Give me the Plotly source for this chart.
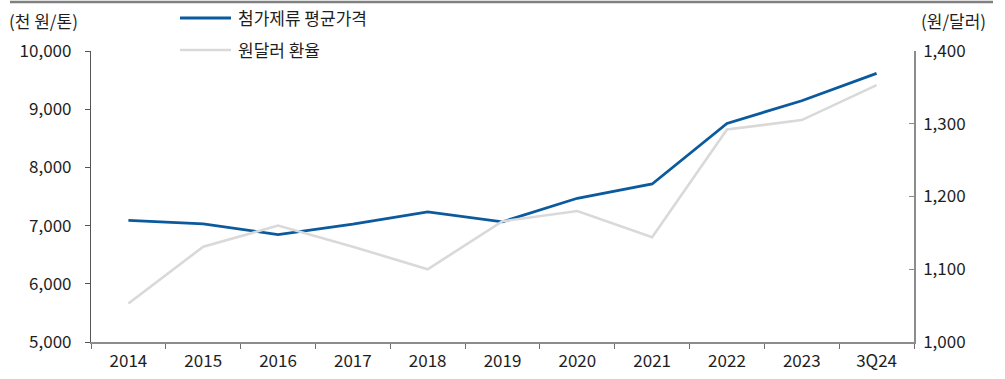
import plotly.graph_objects as go

# Annual series
years = ["2014", "2015", "2016", "2017", "2018", "2019", "2020", "2021", "2022", "2023", "3Q24"]
additive_price = [7090, 7030, 6845, 7025, 7235, 7065, 7470, 7715, 8755, 9145, 9615]  # 천 원/톤
krw_usd = [1053, 1131, 1160, 1131, 1100, 1166, 1180, 1144, 1292, 1305, 1353]  # 원/달러

left_ticks = [5000, 6000, 7000, 8000, 9000, 10000]
right_ticks = [1000, 1100, 1200, 1300, 1400]

BLUE = "#0B5A9E"
GRAY = "#D9D9D9"
FONT = "Noto Sans CJK KR"
TXT = "#1E1E1E"
FS = 17

fig = go.Figure()
fig.add_trace(go.Scatter(
    x=years, y=krw_usd, name="원달러 환율", yaxis="y2",
    mode="lines", line=dict(color=GRAY, width=2.6),
))
fig.add_trace(go.Scatter(
    x=years, y=additive_price, name="첨가제류 평균가격", yaxis="y",
    mode="lines", line=dict(color=BLUE, width=2.8),
))

W, H = 1005, 379
ml, mr, mt, mb = 91, 91, 51, 37

# paper coordinates are relative to the plot area; convert from page pixels
def pxa(x):
    return (x - ml) / (W - ml - mr)

def pya(y):
    return (H - mb - y) / (H - mt - mb)

fig.update_layout(
    width=W, height=H,
    margin=dict(l=ml, r=mr, t=mt, b=mb, autoexpand=False),
    paper_bgcolor="white", plot_bgcolor="white",
    showlegend=False,
    font=dict(family=FONT, size=FS, color=TXT),
    xaxis=dict(
        type="category", tickson="boundaries",
        range=[-0.5, len(years) - 0.5],
        automargin=False,
        showline=True, linecolor="#8C8C8C", linewidth=1.5,
        ticks="outside", ticklen=5, tickcolor="#6E6E6E", tickwidth=1,
        showgrid=False, zeroline=False,
        ticklabelstandoff=3,
        tickfont=dict(family=FONT, size=FS, color=TXT),
    ),
    yaxis=dict(
        range=[5000, 10000], tickvals=left_ticks,
        tickformat=",d", automargin=False,
        showline=True, linecolor="#555555", linewidth=1.2,
        ticks="outside", ticklen=5, tickcolor="#555555",
        showgrid=False, zeroline=False,
        ticklabelstandoff=10,
        tickfont=dict(family=FONT, size=FS, color=TXT),
    ),
    yaxis2=dict(
        range=[1000, 1400], tickvals=right_ticks,
        tickformat=",d", automargin=False,
        overlaying="y", side="right",
        showline=True, linecolor="#8C8C8C", linewidth=1.5,
        ticks="inside", ticklen=5, tickcolor="#8C8C8C",
        showgrid=False, zeroline=False,
        ticklabelstandoff=4,
        tickfont=dict(family=FONT, size=FS, color=TXT),
    ),
)

shapes = []
# top rule
shapes.append(dict(type="line", xref="paper", yref="paper",
                   x0=pxa(10), x1=pxa(993), y0=pya(2), y1=pya(2),
                   line=dict(color="#808080", width=2.5)))
# legend samples
shapes.append(dict(type="line", xref="paper", yref="paper",
                   x0=pxa(180), x1=pxa(231), y0=pya(18), y1=pya(18),
                   line=dict(color=BLUE, width=2.8)))
shapes.append(dict(type="line", xref="paper", yref="paper",
                   x0=pxa(180), x1=pxa(231), y0=pya(50), y1=pya(50),
                   line=dict(color=GRAY, width=2.6)))
fig.update_layout(shapes=shapes)

annotations = [
    dict(text="첨가제류 평균가격", x=pxa(236), y=pya(18), xanchor="left", yanchor="middle"),
    dict(text="원달러 환율", x=pxa(236), y=pya(49), xanchor="left", yanchor="middle"),
    dict(text="(천 원/톤)", x=pxa(7), y=pya(21), xanchor="left", yanchor="middle"),
    dict(text="(원/달러)", x=pxa(988), y=pya(21), xanchor="right", yanchor="middle"),
]
for a in annotations:
    a.update(xref="paper", yref="paper", showarrow=False,
             font=dict(family=FONT, size=FS, color=TXT))
fig.update_layout(annotations=annotations)

fig.write_html("out.html")
